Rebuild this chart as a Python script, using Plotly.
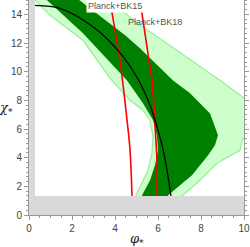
import plotly.graph_objects as go

# Light green (outer) region boundary
light_x = [0.10, 0.25, 0.98, 2.51, 3.77, 4.70, 5.30, 5.63, 5.77, 5.72, 5.53, 5.30, 5.02, 4.93, 4.70,
           6.10, 7.16, 7.95, 8.74, 9.81, 9.95, 10.5, 10.5, 9.95, 8.88, 6.00, 5.16, 4.47, 3.63, 3.20]
light_y = [15.5, 15.0, 13.94, 12.19, 9.54, 8.00, 7.31, 6.61, 5.42, 4.30, 3.12, 2.42, 1.58, 1.31, 0.5,
           0.5, 1.38, 2.42, 3.61, 4.51, 5.35, 5.0, 7.7, 8.21, 9.40, 12.40, 13.24, 14.08, 14.98, 15.5]

# Dark green (inner) region boundary
dark_x = [0.60, 0.84, 2.51, 3.77, 4.56, 5.30, 5.77, 5.95, 6.00, 5.86, 5.63, 5.26, 5.00,
          6.10, 6.47, 7.58, 8.33, 8.65, 8.79, 8.42, 7.49, 6.70, 5.16, 4.47, 2.93, 2.33, 1.90]
dark_y = [15.5, 14.98, 12.68, 10.65, 9.39, 7.79, 6.61, 5.56, 4.52, 3.47, 2.42, 1.37, 0.5,
          0.5, 1.37, 2.77, 4.17, 4.87, 5.56, 7.09, 8.49, 9.39, 11.63, 12.54, 14.28, 14.98, 15.5]

# Red constraint lines
red1_x = [3.72, 3.77, 4.23, 4.56, 4.70, 4.79]
red1_y = [15.7, 14.98, 10.79, 6.60, 4.52, 1.33]
red2_x = [5.07, 5.16, 5.58, 5.72, 5.86, 5.95, 5.95]
red2_y = [15.7, 14.98, 10.79, 9.39, 6.25, 3.82, 1.33]

# Black curve
black_x = [0.20, 0.28, 1.44, 3.07, 4.33, 5.02, 5.63, 5.86, 6.19, 6.42, 6.60]
black_y = [14.66, 14.63, 14.42, 13.03, 11.14, 9.61, 7.66, 6.61, 4.86, 3.12, 1.33]

x_ticks = [0, 2, 4, 6, 8, 10]
y_ticks = [0, 2, 4, 6, 8, 10, 12, 14]

fig = go.Figure()
fig.add_trace(go.Scatter(x=light_x, y=light_y, fill="toself", fillcolor="#ccffcc",
                         line=dict(color="#98ee98", width=1.2), mode="lines", hoverinfo="skip"))
fig.add_trace(go.Scatter(x=dark_x, y=dark_y, fill="toself", fillcolor="#008000",
                         line=dict(color="#008000", width=0), mode="lines", hoverinfo="skip"))
fig.add_trace(go.Scatter(x=red1_x, y=red1_y, mode="lines", line=dict(color="#ff0000", width=1.6, shape="spline")))
fig.add_trace(go.Scatter(x=red2_x, y=red2_y, mode="lines", line=dict(color="#ff0000", width=1.6, shape="spline")))
fig.add_trace(go.Scatter(x=black_x, y=black_y, mode="lines", line=dict(color="#000000", width=1.3, shape="spline")))

# gray excluded bands
fig.add_shape(type="rect", xref="x", yref="y", x0=0, x1=10, y0=0, y1=1.33,
              fillcolor="#d9d9d9", line=dict(width=0), layer="above")
fig.add_shape(type="rect", xref="x", yref="y", x0=0, x1=0.28, y0=0, y1=15,
              fillcolor="#d9d9d9", line=dict(width=0), layer="above")

fig.add_annotation(x=4.0, y=14.58, xref="x", yref="y", text="Planck+BK15", showarrow=False,
                   font=dict(family="Liberation Sans, Arial", size=9, color="#555555"),
                   bgcolor="#ffffff", borderpad=1)
fig.add_annotation(x=5.85, y=13.45, xref="x", yref="y", text="Planck+BK18", showarrow=False,
                   font=dict(family="Liberation Sans, Arial", size=9, color="#555555"))

fig.add_annotation(x=0.5, y=-0.116, xref="paper", yref="paper", text="<i>φ</i><sub>*</sub>",
                   showarrow=False, font=dict(family="DejaVu Serif", size=13, color="#222222"),
                   xanchor="center", yanchor="middle")
fig.add_annotation(x=-0.105, y=0.495, xref="paper", yref="paper", text="<i>χ</i><sub>*</sub>",
                   showarrow=False, font=dict(family="DejaVu Serif", size=13, color="#222222"),
                   xanchor="center", yanchor="middle")

axis_common = dict(showgrid=False, zeroline=False, showline=True, linecolor="#999999", linewidth=1,
                   mirror="ticks", ticks="outside", ticklen=4, tickcolor="#999999", tickwidth=1,
                   automargin=False,
                   tickfont=dict(family="Liberation Sans, Arial", size=10, color="#444444"))
fig.update_xaxes(range=[0, 10], tickvals=x_ticks, minor=dict(dtick=0.5, ticklen=2, tickcolor="#999999", ticks="outside"),
                 **axis_common)
fig.update_yaxes(range=[0, 15], tickvals=y_ticks, minor=dict(dtick=1/3, ticklen=2, tickcolor="#999999", ticks="outside"),
                 **axis_common)

fig.update_layout(width=250, height=247, margin=dict(l=29, r=6, t=0, b=32, autoexpand=False),
                  plot_bgcolor="#ffffff", paper_bgcolor="#ffffff", showlegend=False)

fig.write_html("out.html", config={"displayModeBar": False},
               post_script="document.body.style.margin='0';document.body.style.overflow='hidden';")
